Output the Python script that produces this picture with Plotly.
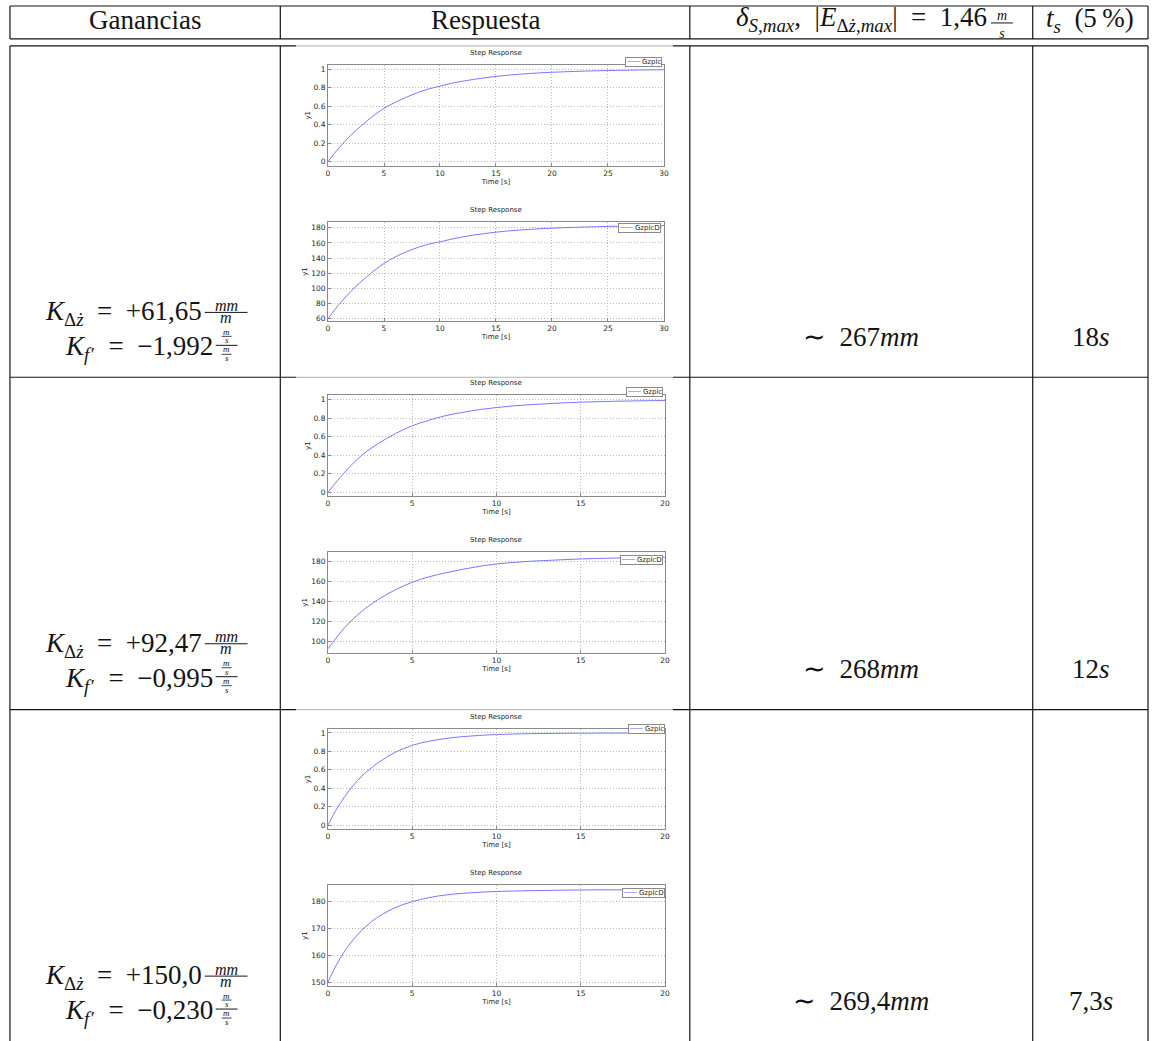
import plotly.graph_objects as go

W, H = 1156, 1041

# ---------------- step-response samples ----------------
T_30 = [0, 1, 2, 3, 4, 5, 6, 7, 8, 9, 10, 11, 12, 13, 14, 15, 16, 17, 18, 19, 20,
        21, 22, 23, 24, 25, 26, 27, 28, 29, 30]
T_20 = [0, 1, 2, 3, 4, 5, 6, 7, 8, 9, 10, 11, 12, 13, 14, 15, 16, 17, 18, 19, 20]
T_20_FINE = [0, 0.5, 1, 1.5, 2, 2.5, 3, 4, 5, 6, 7, 8, 9, 10, 12, 14, 16, 18, 20]

GZPLC_1 = [0, 0.15, 0.28, 0.39, 0.49, 0.575, 0.64, 0.695, 0.745, 0.785, 0.815, 0.845,
           0.868, 0.888, 0.905, 0.92, 0.933, 0.943, 0.952, 0.959, 0.965, 0.97, 0.974,
           0.978, 0.981, 0.984, 0.986, 0.988, 0.99, 0.991, 0.992]
GZPLCD_1 = [60, 79, 95.5, 109.5, 122, 133, 141.5, 148.5, 154, 158.5, 161.5, 165, 168,
            170.5, 172.5, 174.3, 175.8, 177, 178, 178.9, 179.6, 180.2, 180.7, 181.1,
            181.5, 181.9, 182.2, 182.5, 182.7, 182.9, 183]
GZPLC_2 = [0, 0.22, 0.40, 0.53, 0.635, 0.72, 0.78, 0.83, 0.865, 0.895, 0.917, 0.935,
           0.948, 0.958, 0.968, 0.975, 0.98, 0.985, 0.988, 0.991, 0.993]
GZPLCD_2 = [92.7, 114, 130, 142, 151.5, 159, 164.5, 168.5, 172, 175, 177.3, 178.8, 180,
            180.8, 181.6, 182.3, 182.8, 183.2, 183.5, 183.8, 184]
GZPLC_3 = [0, 0.17, 0.31, 0.43, 0.53, 0.61, 0.68, 0.79, 0.865, 0.91, 0.94, 0.96, 0.973,
           0.982, 0.992, 0.996, 0.998, 0.999, 1.0]
GZPLCD_3 = [150, 156.4, 161.7, 165.8, 169.3, 172.1, 174.4, 177.8, 180, 181.5, 182.5,
            183.1, 183.5, 183.8, 184.1, 184.3, 184.4, 184.4, 184.4]

LEGEND_NAMES = ["Gzplc", "GzplcD", "Gzplc", "GzplcD", "Gzplc", "GzplcD"]

# ---------------- table contents ----------------
HEADERS = ["Ganancias", "Respuesta"]
GAIN_KDZ = ["+61,65", "+92,47", "+150,0"]
GAIN_KF = ["\u22121,992", "\u22120,995", "\u22120,230"]
DELTA_S = ["267", "268", "269,4"]
T_SETTLE = ["18", "12", "7,3"]
E_MAX = "1,46"

SERIF = "Liberation Serif"
SANS = "DejaVu Sans"
INK = "#141414"
LINE_BLUE = "#7878ff"
SP = "\u2002"      # en space around relations
FS = 27            # main table font size

fig = go.Figure()


def px(x):
    return x / W


def py(y):
    return 1 - y / H


# panel layout: (time, values, x-range, y-range, y-dtick, box top, box bottom, box right)
panels = [
    (T_30, GZPLC_1, [0, 30], [-0.045, 1.045], 0.2, 65, 166, 666),
    (T_30, GZPLCD_1, [0, 30], [56.4, 188.3], 20, 222, 322, 666),
    (T_20, GZPLC_2, [0, 20], [-0.04, 1.05], 0.2, 396, 497, 667),
    (T_20, GZPLCD_2, [0, 20], [88.7, 189.3], 20, 553, 654, 667),
    (T_20_FINE, GZPLC_3, [0, 20], [-0.047, 1.047], 0.2, 730, 831, 667),
    (T_20_FINE, GZPLCD_3, [0, 20], [148.5, 186.1], 10, 887, 988, 667),
]

BOX_LEFT = 328
axis_common = dict(
    showline=True, mirror=True, linecolor="#8a8a8a", linewidth=1,
    showgrid=True, gridcolor="#b8b8b8", griddash="1px,2px", gridwidth=1,
    ticks="inside", ticklen=3, tickcolor="#8a8a8a", zeroline=False,
    tickfont=dict(family=SANS, size=7.5, color="#262626"),
)

layout_axes = {}
for i, (t, y, xr, yr, ydt, top, bot, right) in enumerate(panels, start=1):
    sfx = "" if i == 1 else str(i)
    fig.add_trace(go.Scatter(
        x=t, y=y, mode="lines", showlegend=False, hoverinfo="skip",
        line=dict(color=LINE_BLUE, width=1, shape="spline"),
        xaxis="x" + sfx, yaxis="y" + sfx,
    ))
    layout_axes["xaxis" + sfx] = dict(
        axis_common, domain=[px(BOX_LEFT), px(right)], anchor="y" + sfx,
        range=xr, dtick=5, tick0=0,
        title=dict(text="Time [s]", font=dict(family=SANS, size=7, color="#262626"), standoff=1),
    )
    layout_axes["yaxis" + sfx] = dict(
        axis_common, domain=[py(bot), py(top)], anchor="x" + sfx,
        range=yr, dtick=ydt, tick0=0,
        title=dict(text="y1", font=dict(family=SANS, size=7, color="#262626"), standoff=2),
    )
    # panel title
    fig.add_annotation(
        x=px((BOX_LEFT + right) / 2), y=py(top - 12), xref="paper", yref="paper",
        text="Step Response", showarrow=False, xanchor="center", yanchor="middle",
        font=dict(family=SANS, size=7, color="#262626"),
    )

fig.update_layout(**layout_axes)

# legend boxes (right edge, top edge)
legend_pos = [(664, 57), (663, 223), (665, 388), (665, 556), (667, 725), (667, 890)]
for name, (lx, ly) in zip(LEGEND_NAMES, legend_pos):
    fig.add_annotation(
        x=px(lx), y=py(ly), xref="paper", yref="paper", showarrow=False,
        xanchor="right", yanchor="top",
        text=f'<span style="color:{LINE_BLUE}">\u2500\u2500\u2500</span> {name}',
        font=dict(family=SANS, size=7, color="#262626"),
        bgcolor="white", bordercolor="#8a8a8a", borderwidth=1, borderpad=0,
    )

# ---------------- table rules ----------------
shapes = []


def hline(x0, x1, y, color=INK, width=1.2):
    shapes.append(dict(type="line", xref="paper", yref="paper",
                       x0=px(x0), x1=px(x1), y0=py(y), y1=py(y),
                       line=dict(color=color, width=width)))


def vline(x, y0, y1, color=INK, width=1.2):
    shapes.append(dict(type="line", xref="paper", yref="paper",
                       x0=px(x), x1=px(x), y0=py(y0), y1=py(y1),
                       line=dict(color=color, width=width)))


COLS = [8, 280, 692, 1037, 1153]
HEAD_TOP, HEAD_BOT, BODY_TOP = 6, 39, 46
ROW_TOPS = [46, 378, 711]
IMG_L, IMG_R = 296, 675

hline(COLS[0], COLS[-1], HEAD_TOP)
hline(COLS[0], COLS[-1], HEAD_BOT)
for yt in ROW_TOPS:
    hline(COLS[0], IMG_L, yt)
    hline(IMG_L, IMG_R, yt, color="#b0b0b0", width=1)
    hline(IMG_R, COLS[-1], yt)
for c in COLS:
    vline(c, HEAD_TOP, HEAD_BOT)
    vline(c, BODY_TOP, H + 5)


# ---------------- table text ----------------
def label(x, baseline, html, size=FS, anchor="center"):
    fig.add_annotation(
        x=px(x), y=py(baseline - 0.34 * size), xref="paper", yref="paper",
        text=html, showarrow=False, xanchor=anchor, yanchor="middle",
        font=dict(family=SERIF, size=size, color=INK), borderpad=0,
    )


def frac(xl, xr, ybar, num, den, size=16, lw=1.0):
    hline(xl, xr, ybar, width=lw)
    xc = (xl + xr) / 2
    label(xc, ybar - 1.5, num, size)
    label(xc, ybar + 3 + 0.46 * size, den, size)


def stacked_frac(xl, xr, ybar, num, den, size=14):
    # numerator and denominator as one two-line text; 1.3em line pitch
    hline(xl, xr, ybar, width=1.0)
    first_base = ybar - 3
    fig.add_annotation(
        x=px((xl + xr) / 2), y=py(first_base + 0.65 * size - 0.45 * size + 0.5 * 0.216 * size),
        xref="paper", yref="paper", text=num + "<br>" + den, showarrow=False,
        xanchor="center", yanchor="middle",
        font=dict(family=SERIF, size=size, color=INK), borderpad=0,
    )


def frac_of_fracs(xl, xr, ybar, size=9):
    # (m/s) / (m/s), every piece placed by its own baseline
    hline(xl, xr, ybar, width=1.0)
    xc = (xl + xr) / 2
    hline(xc - 5, xc + 5, ybar - 9, width=0.8)
    hline(xc - 5, xc + 5, ybar + 9, width=0.8)
    label(xc, ybar - 10.5, "<i>m</i>", size)
    label(xc, ybar - 2, "<i>s</i>", size)
    label(xc, ybar + 7, "<i>m</i>", size)
    label(xc, ybar + 16, "<i>s</i>", size)


# header
label(144, 29, HEADERS[0])
label(486, 29, HEADERS[1])
label(992, 28, "<i>\u03b4</i><sub><i>S</i>,<i>max</i></sub>," + SP + "|<i>E</i>"
               "<sub>\u0394<i>\u017c</i>,<i>max</i></sub>|" + SP + "=" + SP + E_MAX,
      anchor="right")
stacked_frac(995, 1017, 23, "<i>m</i>", "<i>s</i>")
label(1095, 29, "<i>t</i><sub><i>s</i></sub>" + SP + "(5\u2009%)")

# body rows
for r, top in enumerate(ROW_TOPS):
    b1 = top + 277
    b2 = top + 312
    label(202, b1, "<i>K</i><sub>\u0394<i>\u017c</i></sub>" + SP + "=" + SP + GAIN_KDZ[r],
          anchor="right")
    frac(204, 247, top + 267, "<i>mm</i>", "<i>m</i>")
    label(213, b2, "<i>K</i><sub><i>f</i>\u200a\u2032</sub>" + SP + "=" + SP + GAIN_KF[r],
          anchor="right")
    frac_of_fracs(215, 237, top + 300)
    label(864, top + 301, "\u223c" + SP + DELTA_S[r] + "<i>mm</i>")
    label(1096, top + 301, T_SETTLE[r] + "<i>s</i>")

fig.update_layout(
    width=W, height=H, margin=dict(l=0, r=0, t=0, b=0),
    paper_bgcolor="white", plot_bgcolor="white",
    shapes=shapes, showlegend=False,
)

fig.write_html("out.html", config={"displayModeBar": False})
